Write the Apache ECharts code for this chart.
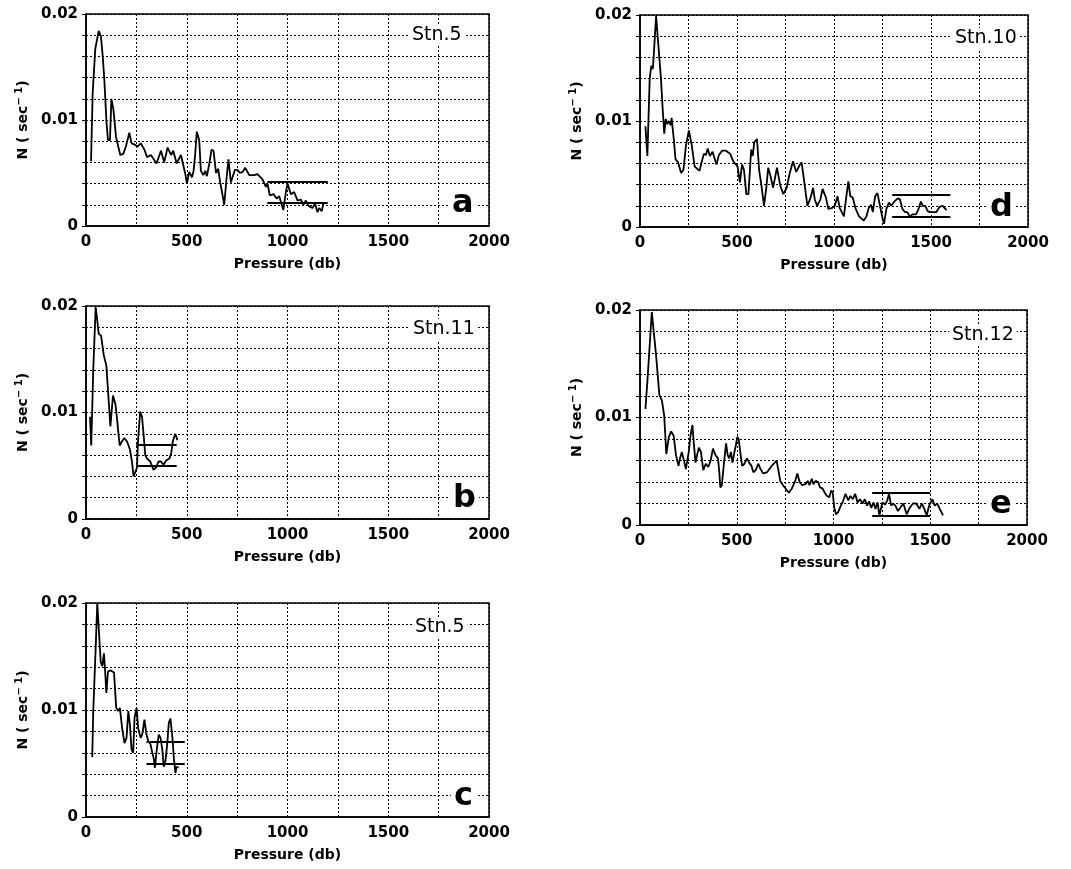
<!DOCTYPE html>
<html>
<head>
<meta charset="utf-8">
<script src="https://cdn.jsdelivr.net/npm/echarts@6/dist/echarts.min.js"></script>
<style>
  html, body { margin: 0; background: #fff; }
  #chart { width: 1071px; height: 869px; }
</style>
</head>
<body>
<div id="chart"></div>
<script>
// tick labels
var xTickLabels = ['0', '500', '1000', '1500', '2000'];
var yTickLabels = ['0', '0.01', '0.02'];

// [pressure (db), N (sec^-1)]
var stn5a = [[25,0.0061],[33,0.0125],[46,0.0167],[63,0.0184],[74,0.0179],[83,0.0160],[91,0.0138],[102,0.0097],[109,0.0081],[119,0.0081],[126,0.0120],[136,0.0110],[149,0.0084],[170,0.0067],[185,0.0068],[198,0.0075],[215,0.0088],[226,0.0078],[240,0.0077],[256,0.0075],[272,0.0078],[290,0.0072],[303,0.0065],[322,0.0067],[331,0.0068],[350,0.0059],[372,0.0071],[388,0.0060],[405,0.0074],[422,0.0067],[433,0.0071],[450,0.0059],[471,0.0067],[480,0.0068],[493,0.0049],[501,0.0040],[512,0.0051],[526,0.0046],[534,0.0052],[542,0.0068],[550,0.0089],[562,0.0081],[570,0.0052],[582,0.0048],[592,0.0052],[600,0.0047],[612,0.0059],[623,0.0072],[633,0.0071],[645,0.0050],[656,0.0054],[666,0.0041],[674,0.0033],[686,0.0020],[698,0.0046],[707,0.0063],[719,0.0041],[727,0.0040],[739,0.0053],[752,0.0053],[764,0.0050],[777,0.0051],[790,0.0055],[810,0.0048],[835,0.0048],[851,0.0049],[876,0.0044],[893,0.0037],[901,0.0040],[912,0.0029],[931,0.0030],[946,0.0026],[959,0.0028],[979,0.0015],[992,0.0032],[1000,0.0040],[1017,0.0030],[1033,0.0032],[1050,0.0024],[1066,0.0025],[1079,0.0020],[1091,0.0024],[1104,0.0019],[1124,0.0017],[1137,0.0021],[1149,0.0013],[1157,0.0017],[1170,0.0014],[1179,0.0022],[1187,0.0021]];
var stn11b = [[20,0.0096],[26,0.0069],[36,0.0140],[48,0.0199],[55,0.0188],[63,0.0174],[75,0.0172],[88,0.0154],[101,0.0144],[113,0.0110],[121,0.0087],[134,0.0116],[146,0.0108],[154,0.0094],[167,0.0069],[179,0.0073],[190,0.0076],[203,0.0073],[217,0.0066],[228,0.0054],[236,0.0040],[245,0.0039],[253,0.0048],[258,0.0073],[269,0.0101],[278,0.0096],[286,0.0079],[294,0.0060],[302,0.0057],[311,0.0058],[319,0.0054],[335,0.0046],[349,0.0049],[360,0.0054],[372,0.0054],[385,0.0051],[398,0.0055],[415,0.0057],[423,0.0062],[431,0.0073],[443,0.0080],[454,0.0074]];
var stn5c = [[31,0.0056],[36,0.0099],[48,0.0158],[56,0.0200],[64,0.0174],[73,0.0145],[81,0.0141],[89,0.0153],[94,0.0139],[101,0.0116],[109,0.0136],[122,0.0137],[139,0.0135],[150,0.0102],[160,0.0099],[168,0.0102],[180,0.0082],[191,0.0069],[201,0.0074],[210,0.0099],[218,0.0086],[226,0.0063],[234,0.0060],[241,0.0093],[251,0.0102],[259,0.0083],[271,0.0074],[279,0.0077],[290,0.0091],[300,0.0077],[309,0.0071],[320,0.0068],[328,0.0061],[337,0.0054],[342,0.0046],[350,0.0061],[361,0.0077],[370,0.0074],[378,0.0064],[386,0.0047],[394,0.0052],[403,0.0068],[411,0.0088],[419,0.0092],[429,0.0074],[436,0.0055],[444,0.0041],[449,0.0047],[460,0.0046]];
var stn10d = [[28,0.0095],[38,0.0067],[50,0.0140],[58,0.0152],[66,0.0149],[71,0.0162],[78,0.0184],[83,0.0199],[91,0.0199],[108,0.0140],[116,0.0114],[125,0.0088],[133,0.0102],[141,0.0097],[149,0.0100],[158,0.0096],[163,0.0103],[174,0.0083],[183,0.0064],[196,0.0061],[212,0.0051],[224,0.0054],[237,0.0077],[252,0.0091],[266,0.0078],[282,0.0057],[307,0.0053],[319,0.0062],[329,0.0069],[340,0.0068],[349,0.0074],[360,0.0067],[374,0.0071],[382,0.0066],[394,0.0059],[407,0.0068],[423,0.0072],[443,0.0072],[465,0.0069],[481,0.0062],[503,0.0057],[515,0.0042],[526,0.0059],[536,0.0054],[548,0.0031],[559,0.0031],[573,0.0073],[581,0.0067],[589,0.0080],[603,0.0083],[614,0.0054],[626,0.0039],[639,0.0020],[651,0.0037],[661,0.0056],[673,0.0048],[686,0.0037],[706,0.0056],[723,0.0039],[739,0.0031],[756,0.0037],[772,0.0051],[789,0.0062],[805,0.0052],[822,0.0058],[833,0.0061],[847,0.0042],[863,0.0020],[880,0.0028],[892,0.0037],[901,0.0026],[913,0.0020],[930,0.0026],[941,0.0036],[958,0.0028],[971,0.0017],[991,0.0018],[1004,0.0020],[1018,0.0029],[1029,0.0018],[1051,0.0010],[1063,0.0028],[1074,0.0043],[1084,0.0029],[1096,0.0028],[1112,0.0017],[1129,0.0010],[1154,0.0006],[1167,0.0010],[1179,0.0018],[1191,0.0021],[1200,0.0014],[1212,0.0029],[1224,0.0032],[1237,0.0020],[1248,0.0010],[1258,0.0003],[1270,0.0017],[1283,0.0023],[1295,0.0020],[1311,0.0024],[1328,0.0027],[1340,0.0026],[1353,0.0017],[1366,0.0014],[1378,0.0014],[1390,0.0010],[1406,0.0012],[1423,0.0012],[1436,0.0017],[1448,0.0024],[1458,0.0020],[1470,0.0020],[1483,0.0015],[1494,0.0014],[1511,0.0014],[1527,0.0014],[1544,0.0019],[1560,0.0020],[1580,0.0016]];
var stn12e = [[28,0.0108],[38,0.0133],[50,0.0167],[61,0.0198],[71,0.0198],[83,0.0158],[100,0.0121],[113,0.0116],[125,0.0102],[136,0.0066],[149,0.0082],[161,0.0087],[174,0.0083],[186,0.0065],[199,0.0055],[207,0.0062],[216,0.0068],[227,0.0060],[237,0.0052],[244,0.0051],[252,0.0068],[261,0.0083],[271,0.0093],[279,0.0074],[287,0.0058],[295,0.0065],[304,0.0072],[315,0.0068],[327,0.0051],[340,0.0057],[353,0.0054],[365,0.0060],[377,0.0071],[390,0.0065],[403,0.0062],[410,0.0049],[415,0.0035],[423,0.0037],[432,0.0054],[440,0.0068],[445,0.0076],[453,0.0065],[461,0.0062],[470,0.0068],[478,0.0058],[486,0.0066],[495,0.0074],[503,0.0082],[510,0.0080],[518,0.0068],[528,0.0055],[540,0.0057],[553,0.0062],[564,0.0058],[576,0.0055],[586,0.0049],[598,0.0051],[611,0.0057],[623,0.0052],[636,0.0048],[656,0.0049],[681,0.0055],[706,0.0060],[714,0.0052],[725,0.0041],[739,0.0037],[752,0.0034],[769,0.0030],[785,0.0034],[802,0.0041],[813,0.0048],[825,0.0040],[838,0.0037],[855,0.0038],[867,0.0041],[876,0.0037],[888,0.0043],[896,0.0038],[908,0.0041],[921,0.0040],[930,0.0035],[943,0.0034],[955,0.0030],[966,0.0027],[979,0.0026],[988,0.0032],[996,0.0030],[1004,0.0016],[1013,0.0010],[1024,0.0012],[1038,0.0018],[1051,0.0023],[1062,0.0029],[1076,0.0023],[1087,0.0027],[1100,0.0024],[1112,0.0029],[1124,0.0021],[1137,0.0024],[1150,0.0020],[1162,0.0024],[1174,0.0018],[1184,0.0022],[1195,0.0016],[1207,0.0021],[1217,0.0015],[1228,0.0021],[1237,0.0009],[1245,0.0008],[1253,0.0021],[1267,0.0019],[1278,0.0023],[1287,0.0029],[1298,0.0018],[1308,0.0020],[1320,0.0018],[1333,0.0013],[1345,0.0016],[1361,0.0020],[1378,0.0010],[1394,0.0016],[1411,0.0020],[1428,0.0020],[1444,0.0015],[1457,0.0020],[1469,0.0015],[1482,0.0009],[1494,0.0018],[1511,0.0024],[1523,0.0018],[1536,0.0020],[1549,0.0015],[1566,0.0009]];

// horizontal reference bars: pressure span and N levels
var refSpanA = [900, 1200],  refLevelsA = [0.0042, 0.0022];
var refSpanB = [250, 450],   refLevelsB = [0.0070, 0.0050];
var refSpanC = [300, 490],   refLevelsC = [0.0070, 0.0050];
var refSpanD = [1300, 1600], refLevelsD = [0.0030, 0.0010];
var refSpanE = [1200, 1500], refLevelsE = [0.0030, 0.0009];

var stationNames = ['Stn.5', 'Stn.11', 'Stn.5', 'Stn.10', 'Stn.12'];
var panelLetters = ['a', 'b', 'c', 'd', 'e'];

var FONT = 'DejaVu Sans';

var panels = [
  { data: stn5a,  span: refSpanA, levels: refLevelsA, box: [86, 14, 403, 212],  stn: [409, 25],  let: [449, 188] },
  { data: stn11b, span: refSpanB, levels: refLevelsB, box: [86, 306, 403, 213], stn: [410, 319], let: [450, 483] },
  { data: stn5c,  span: refSpanC, levels: refLevelsC, box: [86, 603, 403, 214], stn: [412, 617], let: [451, 781] },
  { data: stn10d, span: refSpanD, levels: refLevelsD, box: [640, 15, 388, 212], stn: [952, 28],  let: [987, 192] },
  { data: stn12e, span: refSpanE, levels: refLevelsE, box: [640, 310, 387, 215], stn: [949, 325], let: [987, 489] }
];

var grids = [], xAxes = [], yAxes = [], series = [], titles = [];

panels.forEach(function (p, i) {
  grids.push({
    left: p.box[0], top: p.box[1], width: p.box[2], height: p.box[3],
    show: true, borderColor: '#000', borderWidth: 1.5, backgroundColor: 'transparent'
  });
  xAxes.push({
    gridIndex: i, type: 'value', min: 0, max: 2000, interval: 250,
    name: 'Pressure (db)', nameLocation: 'middle', nameGap: 31,
    nameTextStyle: { fontFamily: FONT, fontSize: 14, fontWeight: 'bold', color: '#000' },
    axisLine: { show: true, lineStyle: { color: '#000', width: 1.5 } },
    axisTick: { show: false },
    axisLabel: {
      margin: 9, fontFamily: FONT, fontSize: 15, fontWeight: 'bold', color: '#000',
      formatter: function (v) { var s = String(v); return xTickLabels.indexOf(s) >= 0 ? s : ''; }
    },
    splitLine: { show: true, lineStyle: { color: '#000', width: 1, type: [2, 2] } }
  });
  yAxes.push({
    gridIndex: i, type: 'value', min: 0, max: 0.02, interval: 0.002,
    name: '{t|N ( sec}{s|\u2212 1}{t|)}', nameLocation: 'middle', nameGap: 53,
    nameTextStyle: {
      color: '#000',
      rich: {
        t: { fontFamily: FONT, fontSize: 14, fontWeight: 'bold', color: '#000' },
        s: { fontFamily: FONT, fontSize: 10, fontWeight: 'bold', color: '#000', padding: [0, 0, 9, 0] }
      }
    },
    axisLine: { show: true, lineStyle: { color: '#000', width: 1.5 } },
    axisTick: { show: true, length: 4, lineStyle: { color: '#000' } },
    axisLabel: {
      margin: 8, fontFamily: FONT, fontSize: 15, fontWeight: 'bold', color: '#000',
      formatter: function (v) { var s = String(Math.round(v * 1000) / 1000); return yTickLabels.indexOf(s) >= 0 ? s : ''; }
    },
    splitLine: { show: true, lineStyle: { color: '#000', width: 1, type: [2, 2] } }
  });
  series.push({
    type: 'line', xAxisIndex: i, yAxisIndex: i, data: p.data,
    showSymbol: false, symbol: 'none', smooth: false,
    lineStyle: { color: '#000', width: 1.8 },
    markLine: {
      silent: true, symbol: ['none', 'none'], label: { show: false },
      lineStyle: { color: '#000', width: 2, type: 'solid' },
      data: p.levels.map(function (n) { return [{ coord: [p.span[0], n] }, { coord: [p.span[1], n] }]; })
    }
  });
  titles.push({
    text: stationNames[i], left: p.stn[0], top: p.stn[1], padding: [1, 3],
    backgroundColor: '#fff',
    textStyle: { fontFamily: FONT, fontSize: 19, fontWeight: 'normal', color: '#000' }
  });
  titles.push({
    text: panelLetters[i], left: p.let[0], top: p.let[1], padding: [0, 3],
    backgroundColor: '#fff',
    textStyle: { fontFamily: FONT, fontSize: 32, fontWeight: 'bold', color: '#000' }
  });
});

var myChart = echarts.init(document.getElementById('chart'));
myChart.setOption({
  backgroundColor: '#fff',
  animation: false,
  title: titles,
  grid: grids,
  xAxis: xAxes,
  yAxis: yAxes,
  series: series
});
window.onresize = myChart.resize;
</script>
</body>
</html>
